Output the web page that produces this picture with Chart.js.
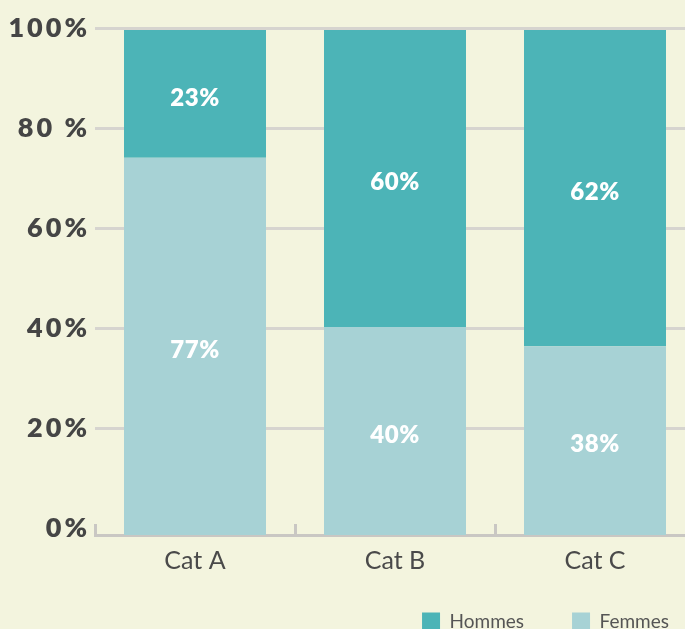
<!DOCTYPE html>
<html><head><meta charset="utf-8">
<script src="https://cdn.jsdelivr.net/npm/chart.js@4.4.1/dist/chart.umd.min.js"></script>
<style>
html,body{margin:0;padding:0;background:#f3f4de;overflow:hidden;}
#wrap{position:relative;width:717px;height:657px;}
</style></head><body>
<div id="wrap"><canvas id="c"></canvas></div>
<script>
const categories = ['Cat A', 'Cat B', 'Cat C'];
const femmes = [74.7, 41.2, 37.4];
const hommes = [25.3, 58.8, 62.6];
const femmesLabels = ['77%', '40%', '38%'];
const hommesLabels = ['23%', '60%', '62%'];
const yTickValues = [0, 20, 40, 60, 80, 100];
const yTickLabels = ['0%', '20%', '40%', '60%', '80 %', '100%'];

const barLabels = {
  id: 'barLabels',
  afterDatasetsDraw(chart) {
    const ctx = chart.ctx;
    ctx.save();
    ctx.font = '800 24px Lato';
    ctx.letterSpacing = '0.5px';
    ctx.fillStyle = '#ffffff';
    ctx.textAlign = 'center';
    ctx.textBaseline = 'middle';
    chart.data.datasets.forEach((ds, di) => {
      const meta = chart.getDatasetMeta(di);
      meta.data.forEach((el, i) => {
        ctx.fillText(ds.valueLabels[i], el.x, (el.y + el.base) / 2 + 4);
      });
    });
    ctx.restore();
  }
};

const layoutTweaks = {
  id: 'layoutTweaks',
  afterLayout(chart) {
    const s = chart.scales.y;
    if (!s._patched) {
      const orig = s.drawLabels.bind(s);
      s.drawLabels = function (a) {
        const c = chart.ctx;
        c.save();
        c.letterSpacing = '3px';
        orig(a);
        c.restore();
      };
      s._patched = true;
    }
    const lg = chart.legend;
    if (lg) { lg.top -= 16; lg.bottom -= 16; }
  }
};

new Chart(document.getElementById('c'), {
  type: 'bar',
  data: {
    labels: categories,
    datasets: [
      { label: 'Femmes', data: femmes, valueLabels: femmesLabels, backgroundColor: '#a7d2d5', borderWidth: 0, yAxisID: 'yb', barPercentage: 0.71, categoryPercentage: 1.0 },
      { label: 'Hommes', data: hommes, valueLabels: hommesLabels, backgroundColor: '#4cb4b7', borderWidth: 0, yAxisID: 'yb', barPercentage: 0.71, categoryPercentage: 1.0 }
    ]
  },
  options: {
    responsive: true,
    maintainAspectRatio: false,
    animation: false,
    layout: { padding: { top: 28, left: 0, right: 0, bottom: 0 } },
    plugins: {
      tooltip: { enabled: false },
      legend: {
        position: 'bottom',
        align: 'end',
        reverse: true,
        labels: { boxWidth: 18, boxHeight: 18, padding: 48, color: '#555555', font: { family: 'Lato', size: 19 } }
      }
    },
    scales: {
      x: {
        stacked: true,
        offset: true,
        grid: { display: true, drawOnChartArea: false, drawTicks: true, tickLength: -11, offset: true, color: '#c9c7c3', lineWidth: 3 },
        border: { display: true, color: '#c9c7c3', width: 3 },
        ticks: { padding: 22, color: '#4a4a4a', font: { family: 'Lato', size: 25 } },
        afterFit(s) { s.height = 45; }
      },
      y: {
        position: 'left',
        min: -1.4,
        max: 100,
        afterBuildTicks(s) { s.ticks = yTickValues.map(v => ({ value: v })); },
        ticks: {
          callback: (v) => yTickLabels[yTickValues.indexOf(v)],
          padding: 5,
          color: '#454545',
          font: { family: 'Lato', size: 27, weight: '800' }
        },
        grid: { drawTicks: false, color: c => (c.tick && c.tick.value === 0) ? 'rgba(0,0,0,0)' : '#d6d4cf', lineWidth: 3 },
        border: { display: false },
        afterFit(s) { s.width = 95; }
      },
      yb: {
        position: 'right',
        stacked: true,
        min: 0,
        max: 100.4,
        display: true,
        ticks: { display: false },
        grid: { display: false, drawTicks: false },
        border: { display: false },
        afterFit(s) { s.width = 22; }
      }
    }
  },
  plugins: [barLabels, layoutTweaks]
});
</script>
</body></html>
